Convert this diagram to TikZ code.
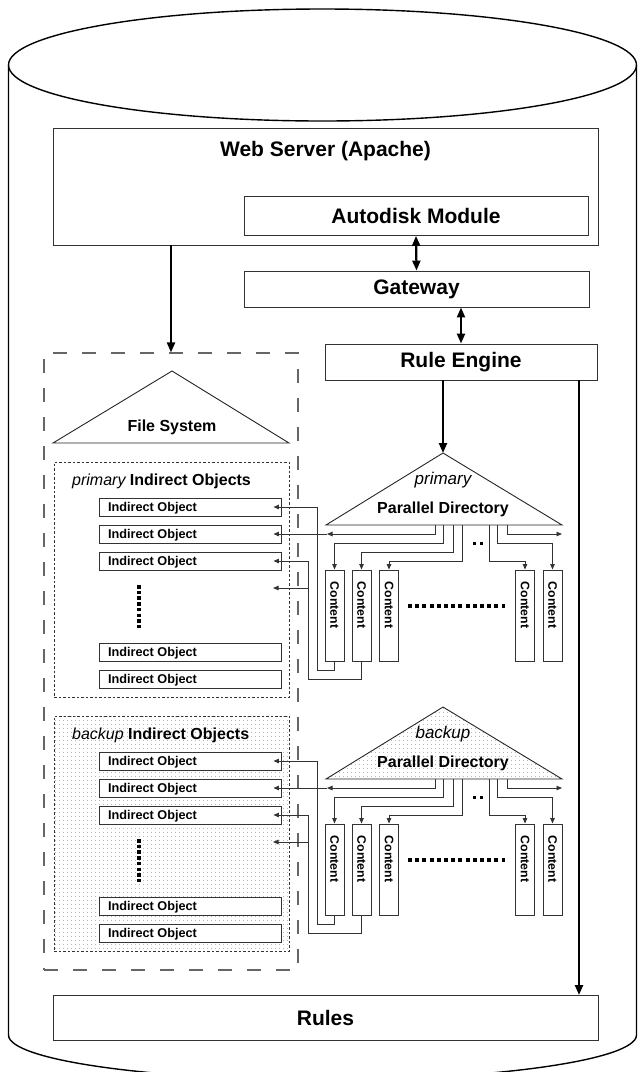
\documentclass[tikz,border=0pt]{standalone}
\usepackage{fontspec}
\usepackage{graphicx}
\setmainfont{Liberation Sans}
\usetikzlibrary{arrows.meta,patterns.meta,calc}

\begin{document}
\begin{tikzpicture}[x=1pt,y=-1pt,
  cyl/.style={draw=black,line width=1.4pt},
  box/.style={draw=black!80,line width=0.9pt,fill=white,inner sep=0pt},
  bigf/.style={font=\fontsize{21}{24}\selectfont\bfseries},
  midf/.style={font=\fontsize{16}{19}\selectfont\bfseries,inner sep=0pt},
  italf/.style={font=\fontsize{17}{20}\selectfont\itshape,inner sep=0pt},
  smallf/.style={font=\fontsize{12.7}{14}\selectfont\bfseries},
  ctext/.style={font=\fontsize{12.3}{14}\selectfont\bfseries,inner sep=0pt},
  iobox/.style={box,minimum width=182pt,minimum height=18pt,smallf,text height=9pt,text depth=0pt},
  cbox/.style={box,minimum width=19pt,minimum height=91pt},
  conn/.style={draw=black!80,line width=0.9pt,-{Triangle[length=5.5pt,width=4.5pt]}},
  bigarrow/.style={draw=black,line width=2.2pt,-{Triangle[length=10pt,width=8pt]}},
  dblarrow/.style={draw=black,line width=2.2pt,{Triangle[length=10pt,width=8pt]}-{Triangle[length=10pt,width=8pt]}},
  fsdash/.style={draw=black!60,line width=1.2pt,dash pattern=on 14pt off 15pt,inner sep=0pt},
  iodots/.style={draw=black!80,line width=0.8pt,dash pattern=on 2.5pt off 2pt,inner sep=0pt},
  tri/.style={draw=black!85,line width=0.9pt},
  layerp/.style={fill=white},
  layerb/.style={pattern={Dots[distance=4pt,radius=0.55pt]},pattern color=black!50},
  vdots/.style={draw=black,line width=3.5pt,dash pattern=on 3.5pt off 2.2pt},
  hdots/.style={draw=black,line width=3.5pt,dash pattern=on 4pt off 3.2pt},
  ddots/.style={draw=black,line width=3pt,dash pattern=on 3pt off 4pt}
]
\useasboundingbox (0,0) rectangle (638,1072);
\clip (0,0) rectangle (638,1072);

% cylinder
\draw[cyl] (8.5,65) -- (8.5,1035) arc[start angle=180,end angle=360,x radius=314pt,y radius=45pt] -- (636.5,65);
\draw[cyl] (322.5,65) ellipse [x radius=314pt,y radius=56pt];

% top boxes
\node[box,minimum width=545pt,minimum height=117pt,
      label={[bigf,anchor=center,yshift=-24pt]north:Web Server (Apache)}] (web) at (325.5,186.5) {};
\node[box,bigf,minimum width=344pt,minimum height=39pt] (auto) at (416,216) {Autodisk Module};
\node[box,bigf,minimum width=345pt,minimum height=36pt] (gateway) at (416.5,289) {Gateway};
\node[box,bigf,minimum width=272pt,minimum height=36pt] (rule) at (461,362) {Rule Engine};
\node[box,bigf,minimum width=545pt,minimum height=45pt] (rules) at (325.5,1017.5) {Rules};

% file system dashed box
\node[fsdash,minimum width=254pt,minimum height=617pt] (fsbox) at (171,661.5) {};
\draw[tri,fill=white] (172,371) coordinate (fsapex) -- (289,443) coordinate (fsR) -- (53,443) coordinate (fsL) -- cycle;
\node[midf] (fs) at (172,427) {File System};

% main arrows
\draw[bigarrow] (web.south -| fsbox.north) -- (fsbox.north);
\draw[dblarrow] (auto.south) -- (gateway.north);
\draw[dblarrow] (gateway.south -| rule) -- (rule.north);
\coordinate (rulesin) at (579,995);
\draw[bigarrow] (rule.south -| rulesin) -- (rulesin);

\foreach \d/\s/\lbl in {0/p/primary,254/b/backup}{
  % indirect objects box
  \node[iodots,layer\s,minimum width=235pt,minimum height=235pt] (iob\s) at (171.5,{579.5+\d}) {};
  \node[midf,anchor=west] (iot\s) at (72,{481+\d}) {{\mdseries\itshape\lbl} Indirect Objects};
  \foreach \i/\yy in {1/507,2/534,3/561,4/652,5/679}{
    \node[iobox] (io\i\s) at (190,{\yy+\d}) {\makebox[164pt][l]{Indirect Object}};
  }
  \draw[vdots] (139,{585+\d}) -- (139,{629+\d});

  % parallel directory
  \draw[tri,layer\s] (443,{453+\d}) coordinate (apex\s) -- (562,{525+\d}) coordinate (pr\s) -- (326,{525+\d}) coordinate (pl\s) -- cycle;
  \node[italf] (pdl\s) at (443,{480+\d}) {\lbl};
  \node[midf] (pdn\s) at (443,{509+\d}) {Parallel Directory};

  % contents
  \foreach \j/\xx in {1/334.5,2/361.5,3/389,4/525,5/552.5}{
    \node[cbox] (c\j\s) at (\xx,{615.5+\d}) {};
    \node[ctext,rotate=-90,anchor=west] (ct\j\s) at ([yshift=-12pt]c\j\s.north) {Content};
  }
  \draw[hdots] (408,{606+\d}) -- (505,{606+\d});
  \draw[ddots] (473,{543+\d}) -- (483,{543+\d});

  % base points
  \foreach \k/\xx in {1/435,2/443,3/453,4/462,5/489,6/497,7/507}{
    \coordinate (b\k\s) at (\xx,{525+\d});
  }
  \coordinate (la\s) at (327,{534+\d});
  \coordinate (ra\s) at (562,{534+\d});
  \draw[conn] (b1\s) |- (la\s);
  \draw[conn] (b2\s) -- ++(0,18) -| (c1\s.north);
  \draw[conn] (b3\s) -- ++(0,27) -| (c2\s.north);
  \draw[conn] (b4\s) -- ++(0,36) -| (c3\s.north);
  \draw[conn] (b5\s) -- ++(0,36) -| (c4\s.north);
  \draw[conn] (b6\s) -- ++(0,18) -| (c5\s.north);
  \draw[conn] (b7\s) |- (ra\s);

  % links back to indirect objects
  \draw[conn] (c1\s.south) -- ++(0,9) -| (317,{507+\d}) -- ([xshift=-8pt]io1\s.east);
  \draw[conn] (la\s) -- ([xshift=-8pt]io2\s.east);
  \draw[conn] (c2\s.south) -- ++(0,18) -| (308,{561+\d}) -- ([xshift=-8pt]io3\s.east);
  \coordinate (j\s) at (308,{588+\d});
  \coordinate (e\s) at (273,{588+\d});
  \draw[conn] (j\s) -- (e\s);
}
\draw[bigarrow] (rule.south -| apexp) -- (apexp);
\end{tikzpicture}
\end{document}
